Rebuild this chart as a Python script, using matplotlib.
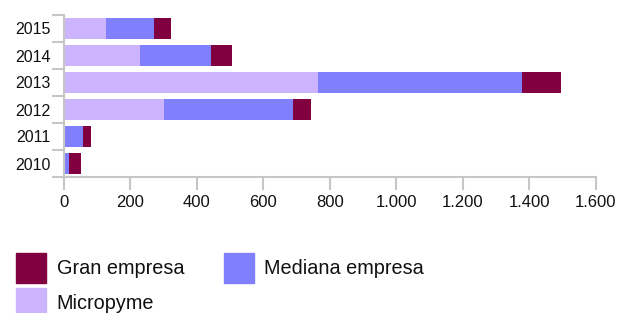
import matplotlib
matplotlib.use("Agg")
import matplotlib.pyplot as plt
from matplotlib.ticker import FuncFormatter, FixedLocator
from matplotlib.patches import Patch
import numpy as np

years = ["2010", "2011", "2012", "2013", "2014", "2015"]
micropyme = [0, 0, 302, 765, 228, 127]
mediana = [14, 57, 387, 613, 214, 143]
gran = [37, 24, 55, 117, 64, 51]
series_names = ["Gran empresa", "Mediana empresa", "Micropyme"]
xticks = [0, 200, 400, 600, 800, 1000, 1200, 1400, 1600]

c_gran = "#800040"
c_med = "#8080ff"
c_mic = "#ccb4ff"
grey = "#c6c6c6"

plt.rcParams["font.family"] = ["Liberation Sans", "DejaVu Sans"]

W, H = 617, 313
fig = plt.figure(figsize=(W / 100, H / 100), dpi=100)
ax = fig.add_axes([64 / W, (H - 177) / H, (595.5 - 64) / W, (177 - 15) / H])

y = np.arange(len(years))
mic = np.array(micropyme)
med = np.array(mediana)
gr = np.array(gran)
h = 0.81
ax.barh(y, mic, height=h, color=c_mic, label=series_names[2])
ax.barh(y, med, left=mic, height=h, color=c_med, label=series_names[1])
ax.barh(y, gr, left=mic + med, height=h, color=c_gran, label=series_names[0])

ax.set_xlim(0, 1600)
ax.set_ylim(-0.5, len(years) - 0.5)

for s in ["top", "right"]:
    ax.spines[s].set_visible(False)
for s in ["left", "bottom"]:
    ax.spines[s].set_color(grey)
    ax.spines[s].set_linewidth(1.5)

ax.set_xticks(xticks)
ax.xaxis.set_major_formatter(FuncFormatter(lambda v, p: f"{int(v):,}".replace(",", ".")))
ax.tick_params(axis="x", which="major", length=9, width=1.5, color=grey, pad=4,
               labelsize=12, labelcolor="#111111")

ax.yaxis.set_major_locator(FixedLocator(np.arange(-0.5, len(years), 1.0)))
ax.yaxis.set_major_formatter(FuncFormatter(lambda v, p: ""))
ax.set_yticks(y, minor=True)
ax.set_yticklabels(years, minor=True)
ax.tick_params(axis="y", which="major", length=9, width=1.5, color=grey)
ax.tick_params(axis="y", which="minor", length=0, pad=9.4, labelsize=11.5, labelcolor="#111111")
for lab in ax.get_yticklabels(minor=True):
    lab.set_verticalalignment("center_baseline")

handles = [Patch(color=c_gran), Patch(color=c_mic), Patch(color=c_med)]
labels = [series_names[0], series_names[2], series_names[1]]
fs_px = 19.9
hh = (30 / fs_px - 0.245) / 0.65
total = hh * fs_px
leg = fig.legend(handles, labels, loc="upper left",
                 bbox_to_anchor=(16 / W, (H - (252.7 - (total - 30 - 0.35 * fs_px * (hh - 0.7)))) / H),
                 ncol=2, frameon=False,
                 borderpad=0, borderaxespad=0,
                 handlelength=30 / fs_px, handleheight=hh,
                 handletextpad=0.53, labelspacing=(35.3 - 30) / fs_px, columnspacing=2.0,
                 prop={"family": ["Liberation Sans", "DejaVu Sans"], "size": fs_px * 0.72})
for t in leg.get_texts():
    t.set_color("#111111")

fig.savefig("out.png", dpi=100)
